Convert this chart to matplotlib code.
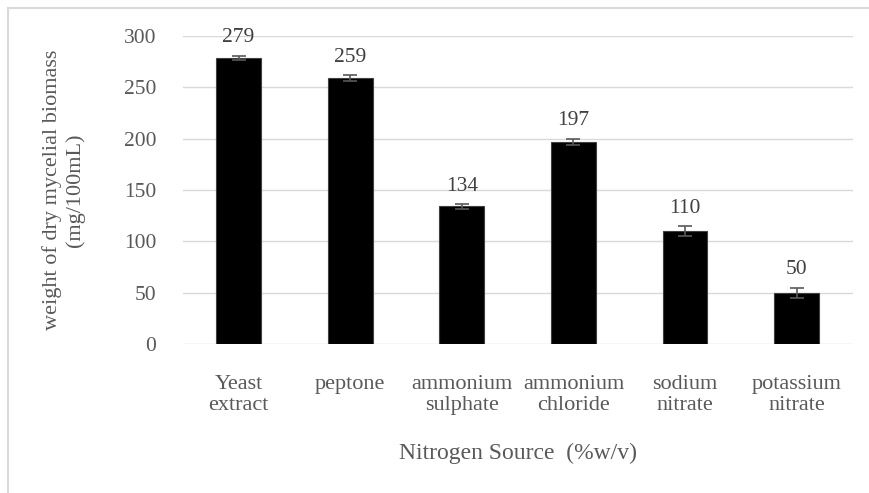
import matplotlib.pyplot as plt
from matplotlib.patches import Rectangle

plt.rcParams['font.family'] = ['Liberation Serif', 'DejaVu Serif']

sources = ['Yeast\nextract', 'peptone', 'ammonium\nsulphate', 'ammonium\nchloride',
           'sodium\nnitrate', 'potassium\nnitrate']
biomass = [279, 259, 134, 197, 110, 50]
errors = [2, 3, 2, 3, 5, 5]

grey = '#595959'
fig = plt.figure(figsize=(8.7, 4.93), dpi=100)
fig.patches.append(Rectangle((8/870, -0.1), 1.2, 1 - 8/493 + 0.1, transform=fig.transFigure,
                             fill=False, edgecolor='#d9d9d9', linewidth=1.5))
ax = fig.add_axes([0.210, 0.302, 0.770, 0.625])

x = range(len(sources))
ax.bar(x, biomass, width=0.4, color='black', edgecolor='#404040', linewidth=0.8, zorder=2)
ax.errorbar(x, biomass, yerr=errors, fmt='none', ecolor=grey, elinewidth=1.2,
            capsize=5, capthick=1.2, zorder=3)
for i, (v, e) in enumerate(zip(biomass, errors)):
    ax.text(i, v + e + 8, str(v), ha='center', va='bottom', fontsize=15.5, color='#404040')

ax.set_xlim(-0.5, 5.5)
ax.set_ylim(0, 300)
ax.set_yticks(range(0, 301, 50))
ax.set_xticks(list(x))
ax.set_xticklabels(sources, fontsize=16, color=grey, linespacing=1.2)
ax.tick_params(axis='y', labelsize=15.5, labelcolor=grey, length=0, pad=19)
ax.tick_params(axis='x', length=0, pad=22)
ax.grid(axis='y', color='#d9d9d9', linewidth=1, zorder=0)
ax.set_axisbelow(True)
for s in ax.spines.values():
    s.set_visible(False)
ax.set_ylabel('weight of dry mycelial biomass\n(mg/100mL)', fontsize=16, color=grey,
              labelpad=28, linespacing=1.2)
ax.set_xlabel('Nitrogen Source  (%w/v)', fontsize=17, color=grey, labelpad=20)

fig.savefig('out.png', dpi=100)
